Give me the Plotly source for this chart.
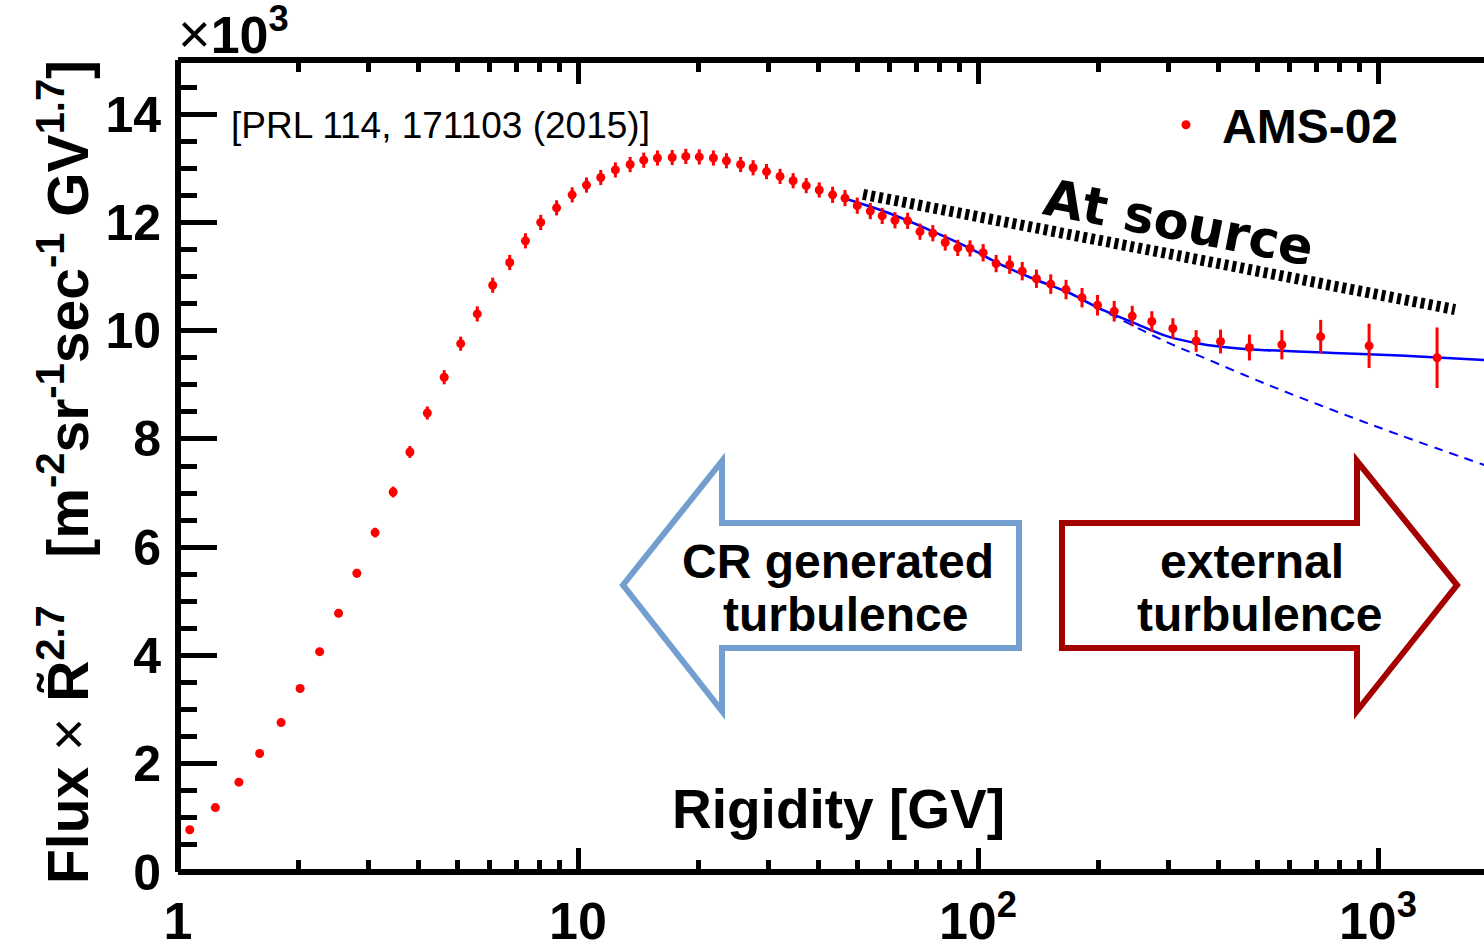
import plotly.graph_objects as go

# AMS-02 proton flux multiplied by R^2.7 (units of 10^3)
rigidity = [1.07, 1.24, 1.42, 1.60, 1.81, 2.02, 2.26, 2.52, 2.80, 3.11,
            3.45, 3.80, 4.20, 4.63, 5.09, 5.60, 6.12, 6.75, 7.39, 8.07,
            8.84, 9.67, 10.5, 11.4, 12.4, 13.5, 14.6, 15.8, 17.2, 18.6,
            20.1, 21.8, 23.5, 25.5, 27.4, 29.6, 32.0, 34.5, 37.2, 40.1,
            43.3, 46.5, 49.9, 53.8, 57.6, 62.0, 66.7, 71.6, 77.1, 82.8,
            89.0, 95.5, 103, 111, 120, 129, 140, 152, 166, 182,
            199, 219, 243, 272, 307, 351, 404, 477, 575, 719,
            950, 1405]
flux = [0.78, 1.19, 1.66, 2.19, 2.76, 3.39, 4.07, 4.78, 5.52, 6.27,
        7.02, 7.76, 8.48, 9.14, 9.76, 10.31, 10.84, 11.26, 11.66, 12.00,
        12.27, 12.51, 12.69, 12.83, 12.97, 13.07, 13.15, 13.19, 13.20, 13.22,
        13.21, 13.19, 13.14, 13.07, 13.01, 12.94, 12.85, 12.77, 12.68, 12.60,
        12.51, 12.45, 12.31, 12.21, 12.12, 12.04, 12.03, 11.83, 11.80, 11.63,
        11.53, 11.52, 11.44, 11.24, 11.22, 11.10, 10.96, 10.86, 10.76, 10.61,
        10.47, 10.36, 10.27, 10.17, 10.04, 9.81, 9.80, 9.69, 9.74, 9.89,
        9.72, 9.50]
flux_err = [0.03, 0.03, 0.03, 0.04, 0.04, 0.05, 0.06, 0.07, 0.08, 0.09,
            0.10, 0.11, 0.12, 0.13, 0.13, 0.14, 0.14, 0.14, 0.14, 0.14,
            0.14, 0.14, 0.14, 0.14, 0.14, 0.14, 0.14, 0.14, 0.14, 0.14,
            0.14, 0.14, 0.14, 0.14, 0.14, 0.14, 0.14, 0.14, 0.14, 0.14,
            0.15, 0.15, 0.15, 0.15, 0.15, 0.15, 0.15, 0.15, 0.15, 0.15,
            0.15, 0.15, 0.16, 0.16, 0.17, 0.17, 0.17, 0.18, 0.18, 0.18,
            0.19, 0.19, 0.19, 0.19, 0.19, 0.20, 0.22, 0.24, 0.27, 0.31,
            0.41, 0.56]

# model with turbulence break (solid) and pure power-law continuation (dashed)
fit_r = [45.6, 60.0, 77.3, 95.0, 113.5, 137.5, 166.6, 201.8, 244.5, 296.3,
         358.9, 434.8, 527, 773, 1135, 1841]
fit_flux = [12.46, 12.17, 11.83, 11.53, 11.23, 10.96, 10.72, 10.41, 10.15, 9.90,
            9.76, 9.68, 9.64, 9.59, 9.54, 9.46]
pl_r = [166.6, 217.6, 296.3, 358.9, 527, 773, 1135, 1841]
pl_flux = [10.72, 10.28, 9.79, 9.53, 9.01, 8.53, 8.07, 7.52]

# injection spectrum slope guide
src_r = [51.6, 1558]
src_flux = [12.52, 10.39]

x_ticks = [1, 10, 100, 1000]
x_ticktext = ["1", "10", "10<sup>2</sup>", "10<sup>3</sup>"]
x_minor = [m * d for d in (1, 10, 100, 1000) for m in range(2, 10)]
y_ticks = [0, 2, 4, 6, 8, 10, 12, 14]

W, H = 1484, 943
L, R, T, B = 178, 0, 60, 71
PW, PH = W - L - R, H - T - B


def px(xp):
    return (xp - L) / PW


def py(yp):
    return (H - B - yp) / PH


SANS = "Liberation Sans, Arial, Helvetica, sans-serif"

fig = go.Figure()

fig.add_trace(go.Scatter(
    x=pl_r, y=pl_flux, mode="lines", showlegend=False,
    line=dict(color="#0000ff", width=2, dash="9px,7px", shape="spline"),
))
fig.add_trace(go.Scatter(
    x=fit_r, y=fit_flux, mode="lines", showlegend=False,
    line=dict(color="#0000ff", width=2.5, shape="spline"),
))
fig.add_trace(go.Scatter(
    x=src_r, y=src_flux, mode="lines", showlegend=False,
    line=dict(color="black", width=11, dash="4px,4px"),
))
fig.add_trace(go.Scatter(
    x=rigidity, y=flux, mode="markers", name="AMS-02",
    marker=dict(color="#ff0000", size=9),
    error_y=dict(type="data", array=flux_err, color="#ff0000",
                 thickness=3, width=0),
))

fig.update_xaxes(
    type="log", range=[0, PW / 400], showgrid=False, zeroline=False,
    showline=False, mirror="ticks", automargin=False,
    tickmode="array", tickvals=x_ticks, ticktext=x_ticktext,
    ticks="inside", ticklen=24, tickwidth=5, tickcolor="black",
    tickfont=dict(family=SANS, size=52, color="black", weight="bold"),
    ticklabelstandoff=14,
    minor=dict(tickmode="array", tickvals=x_minor, ticks="inside",
               ticklen=12, tickwidth=5, tickcolor="black", showgrid=False),
)
fig.update_yaxes(
    range=[0, PH / 54.13], showgrid=False, zeroline=False, showline=False,
    automargin=False,
    tickmode="array", tickvals=y_ticks,
    ticks="inside", ticklen=39, tickwidth=5, tickcolor="black",
    tickfont=dict(family=SANS, size=50, color="black", weight="bold"),
    ticklabelstandoff=16,
    minor=dict(dtick=0.5, ticks="inside", ticklen=19, tickwidth=5,
               tickcolor="black", showgrid=False),
)

fig.update_layout(
    width=W, height=H,
    margin=dict(l=L, r=R, t=T, b=B, pad=0, autoexpand=False),
    plot_bgcolor="white", paper_bgcolor="white",
    yaxis2=dict(
        overlaying="y", side="right", range=[0, PH / 54.13],
        showgrid=False, zeroline=False, showline=False, showticklabels=False,
        automargin=False,
        tickmode="array", tickvals=y_ticks,
        ticks="inside", ticklen=27, tickwidth=5, tickcolor="black",
        minor=dict(dtick=0.5, ticks="inside", ticklen=8, tickwidth=5,
                   tickcolor="black", showgrid=False),
    ),
    legend=dict(
        x=px(1150), y=py(125), xanchor="left", yanchor="middle",
        bgcolor="rgba(0,0,0,0)", itemwidth=62,
        font=dict(family=SANS, size=48, color="black", weight="bold"),
    ),
)

# frame lines
frame = dict(type="line", xref="paper", yref="paper",
             line=dict(color="black", width=6), layer="above")
fig.add_shape(x0=0, x1=0, y0=0, y1=1, **frame)
fig.add_shape(x0=0, x1=1.01, y0=0, y1=0, **frame)
fig.add_shape(x0=0, x1=1.01, y0=1, y1=1, **frame)


def path(points):
    return "M " + " L ".join(f"{px(a):.5f},{py(b):.5f}" for a, b in points) + " Z"


# left arrow: CR generated turbulence
fig.add_shape(type="path", xref="paper", yref="paper", layer="above",
              path=path([(623, 585), (722, 461), (722, 523), (1019, 523),
                         (1019, 648), (722, 648), (722, 711)]),
              line=dict(color="#729fcf", width=6), fillcolor="rgba(0,0,0,0)")
# right arrow: external turbulence
fig.add_shape(type="path", xref="paper", yref="paper", layer="above",
              path=path([(1062, 523), (1357, 523), (1357, 461), (1457, 585),
                         (1357, 711), (1357, 648), (1062, 648)]),
              line=dict(color="#a40000", width=6), fillcolor="rgba(0,0,0,0)")


def note(text, xp, yp, size, bold=True, xanchor="center", yanchor="middle",
         angle=0, family=SANS):
    fig.add_annotation(
        text=text, x=px(xp), y=py(yp), xref="paper", yref="paper",
        xanchor=xanchor, yanchor=yanchor, showarrow=False, textangle=angle,
        font=dict(family=family, size=size, color="black",
                  weight="bold" if bold else "normal"),
    )


note("CR generated", 838, 561, 48)
note("turbulence", 845, 614, 48)
note("external", 1252, 561, 48)
note("turbulence", 1259, 614, 48)
note("Rigidity [GV]", 838, 809, 55)
note("At source", 1178, 223, 51, angle=11,
     family="DejaVu Sans, Verdana, sans-serif")
note("[PRL 114, 171103 (2015)]", 229, 125, 37, bold=False, xanchor="left")
# axis multiplier
note("<span style='font-size:56px'>×</span><b>10<sup>3</sup></b>",
     176, 67, 52, bold=False, xanchor="left", yanchor="bottom")
note("<b>Flux</b> × <b>R̃<sup>2.7</sup></b>   "
     "<b>[m<sup>-2</sup>sr<sup>-1</sup>sec<sup>-1</sup> GV<sup>1.7</sup>]</b>",
     64, 472, 57, bold=False, angle=-90)

fig.write_html("out.html")
